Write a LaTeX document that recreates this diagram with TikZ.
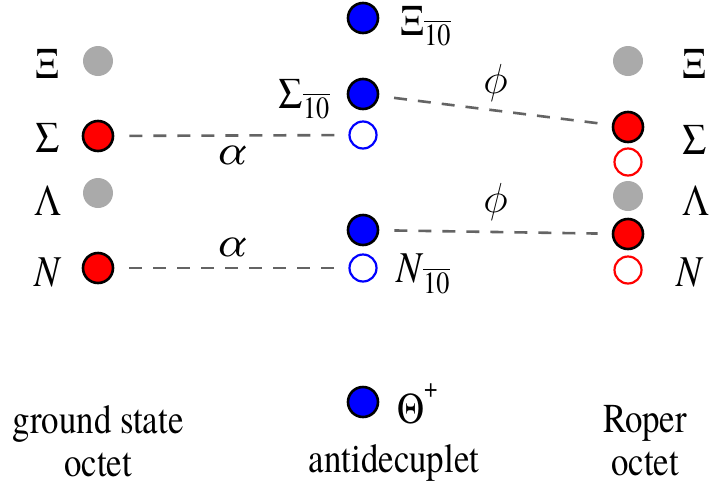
\documentclass[tikz,border=0pt]{standalone}
\usepackage{fix-cm}
\usepackage{amsmath}
\usepackage{fontspec}
\setmainfont{texgyretermes}[Extension=.otf,UprightFont=*-regular,ItalicFont=*-italic,BoldFont=*-bold,BoldItalicFont=*-bolditalic,FakeStretch=0.85]
\newfontfamily\mixfont{texgyretermes}[Extension=.otf,UprightFont=*-italic]
\usepackage{tikz}
\usetikzlibrary{positioning}
\definecolor{StateRed}{RGB}{255,0,0}
\definecolor{StateBlue}{RGB}{0,0,255}
\definecolor{StateGray}{RGB}{170,170,170}
\definecolor{MixGray}{RGB}{100,100,100}

\tikzset{
  dot/.style={circle,minimum size=30pt,inner sep=0pt,line width=2.6pt},
  octfull/.style={dot,draw=black,fill=StateRed},
  octopen/.style={dot,minimum size=27pt,draw=StateRed,fill=white,line width=2.2pt},
  decfull/.style={dot,draw=black,fill=StateBlue},
  decopen/.style={dot,minimum size=27pt,draw=StateBlue,fill=white,line width=2.2pt},
  octgray/.style={dot,fill=StateGray},
  greek/.style={inner sep=0pt,font=\fontsize{44}{46}\selectfont},
  mix/.style={draw=MixGray,line width=2.6pt,dash pattern=on 13pt off 11pt,shorten <=15pt,shorten >=14pt},
  mixlabel/.style={inner sep=0pt,font=\mixfont\fontsize{42}{44}\selectfont},
  caption/.style={align=center,font=\fontsize{41}{43}\selectfont}
}

\begin{document}
\begin{tikzpicture}[x=1pt,y=-1pt]
  \useasboundingbox (0,0) rectangle (712,488);

  % ground state octet
  \node[octgray] (lXi)  at (98,61)  {};
  \node[octfull] (lSig) at (98,136) {};
  \node[octgray] (lLam) at (98,193) {};
  \node[octfull] (lN)   at (98,268) {};
  \node[greek,left=22pt of lXi,yshift=-3pt]  {Ξ};
  \node[greek,left=22pt of lSig,yshift=-2pt] {Σ};
  \node[greek,left=20pt of lLam,yshift=-8pt] {Λ};
  \node[greek,left=20pt of lN,yshift=-4pt]   {\textit{N}};

  % antidecuplet
  \node[decfull] (aXi)   at (363,18)  {};
  \node[decfull] (aSig)  at (363,94)  {};
  \node[decopen] (aSigO) at (363,135) {};
  \node[decfull] (aN)    at (363,230) {};
  \node[decopen] (aNO)   at (363,268) {};
  \node[decfull] (aTh)   at (363,402) {};
  \node[greek,anchor=west] at (400,26)  {Ξ$_{\overline{\text{10}}}$};
  \node[greek,anchor=east] at (330,99)  {Σ$_{\overline{\text{10}}}$};
  \node[greek,anchor=west] at (396,274) {\textit{N}$_{\overline{\text{10}}}$};
  \node[greek,anchor=west] at (397,404) {Θ\raisebox{0.6em}{\fontsize{28}{28}\selectfont +}};

  % Roper octet
  \node[octgray] (rXi)   at (628,61)  {};
  \node[octfull] (rSig)  at (628,127) {};
  \node[octopen] (rSigO) at (628,162) {};
  \node[octgray] (rLam)  at (628,196) {};
  \node[octfull] (rN)    at (628,234) {};
  \node[octopen] (rNO)   at (628,270) {};
  \node[greek,right=38pt of rXi,yshift=-3pt]  {Ξ};
  \node[greek,right=38pt of rSig,yshift=-13pt] {Σ};
  \node[greek,right=38pt of rLam,yshift=-5pt]  {Λ};
  \node[greek,right=34pt of rNO,yshift=-2pt]   {\textit{N}};

  % mixing
  \draw[mix] (lSig) -- node[mixlabel,below=9pt] {α} (aSigO);
  \draw[mix] (lN) -- node[mixlabel,above=10pt] {α} (aNO);
  \draw[mix] (aSig) -- node[mixlabel,above=8pt] {$\phi$} (rSig);
  \draw[mix] (aN) -- node[mixlabel,above=10pt] {$\phi$} (rN);

  % multiplet names
  \node[caption] at (98,441)  {ground state\\octet};
  \node[caption] at (394,463) {antidecuplet};
  \node[caption] at (645,441) {Roper\\octet};
\end{tikzpicture}
\end{document}
